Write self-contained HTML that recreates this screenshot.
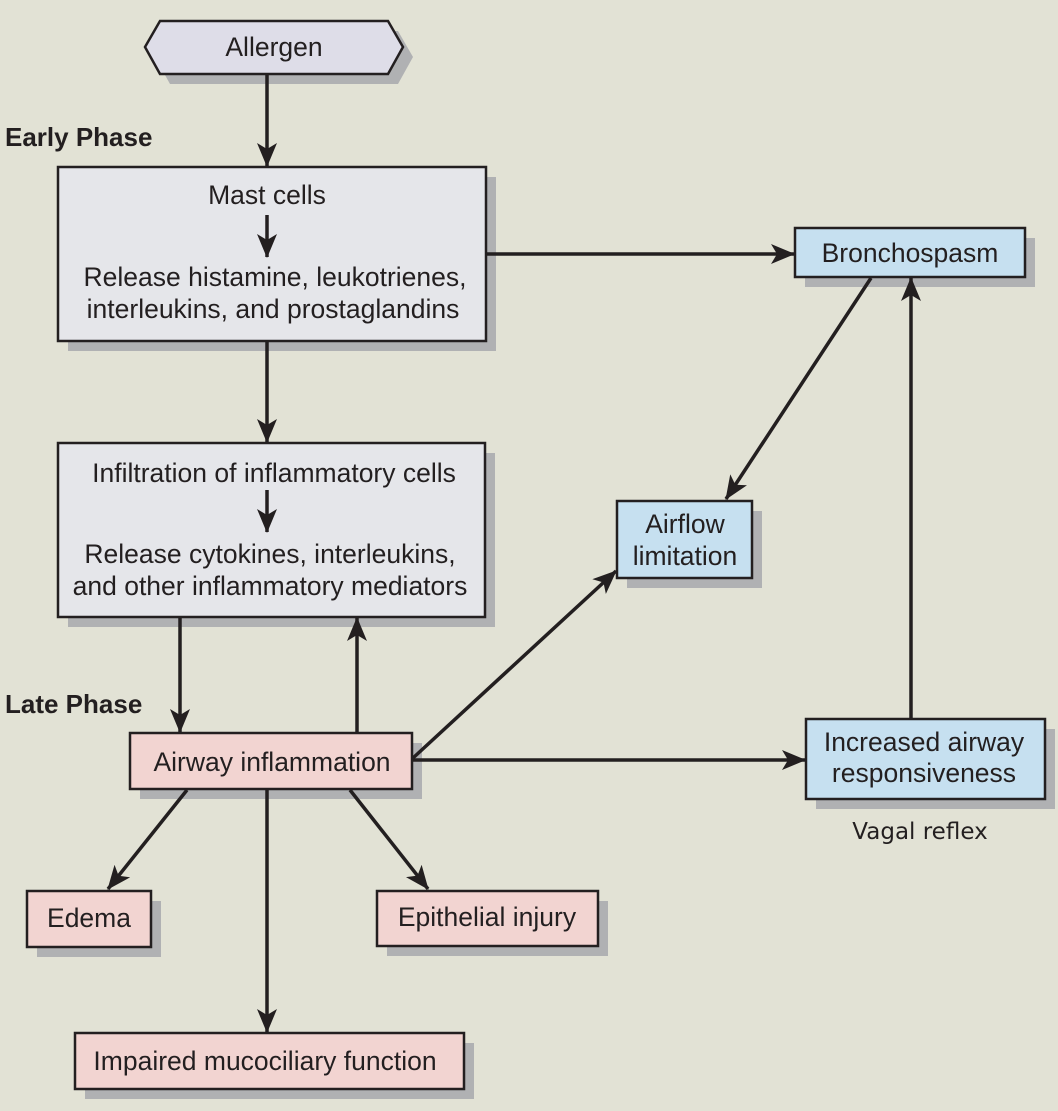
<!DOCTYPE html>
<html><head><style>
body{margin:0;background:#e2e2d5;}
svg text{font-family:"Liberation Sans",Arial,sans-serif;fill:#231f20;}
</style></head><body>
<svg width="1058" height="1106" viewBox="0 0 1058 1106" xmlns="http://www.w3.org/2000/svg">
<defs>
<marker id="a" viewBox="0 0 24 20" refX="23" refY="10" markerWidth="24" markerHeight="20" markerUnits="userSpaceOnUse" orient="auto">
<path d="M0,0 L24,10 L0,20 L6,10 Z" fill="#231f20"/></marker>
</defs>
<rect width="1058" height="1106" fill="#e2e2d5"/>
<g fill="#b0b1b3">
<polygon points="155,57 170,31 398,31 413,57 398,84 170,84"/>
<rect x="68" y="177" width="428" height="174"/>
<rect x="68" y="453" width="427" height="174"/>
<rect x="140" y="743" width="282" height="56"/>
<rect x="37" y="901" width="124" height="56"/>
<rect x="387" y="901" width="221" height="55"/>
<rect x="85" y="1043" width="389" height="56"/>
<rect x="805" y="238" width="230" height="49"/>
<rect x="627" y="511" width="135" height="77"/>
<rect x="816" y="729" width="239" height="80"/>
</g>
<g stroke="#231f20" stroke-width="2.5">
<polygon points="145,47 160,21 388,21 403,47 388,74 160,74" fill="#dedde8"/>
<rect x="58" y="167" width="428" height="174" fill="#e5e6ea"/>
<rect x="58" y="443" width="427" height="174" fill="#e5e6ea"/>
<rect x="130" y="733" width="282" height="56" fill="#f2d4d1"/>
<rect x="27" y="891" width="124" height="56" fill="#f2d4d1"/>
<rect x="377" y="891" width="221" height="55" fill="#f2d4d1"/>
<rect x="75" y="1033" width="389" height="56" fill="#f2d4d1"/>
<rect x="795" y="228" width="230" height="49" fill="#c6e0f0"/>
<rect x="617" y="501" width="135" height="77" fill="#c6e0f0"/>
<rect x="806" y="719" width="239" height="80" fill="#c6e0f0"/>
</g>
<g stroke="#231f20" stroke-width="3.5" fill="none" marker-end="url(#a)">
<line x1="267" y1="75" x2="267" y2="166"/>
<line x1="267" y1="215" x2="267" y2="257"/>
<line x1="267" y1="342" x2="267" y2="442"/>
<line x1="487" y1="254" x2="794" y2="254"/>
<line x1="267" y1="490" x2="267" y2="532"/>
<line x1="180" y1="618" x2="180" y2="732"/>
<line x1="357" y1="732" x2="357" y2="618"/>
<line x1="871" y1="278" x2="726" y2="499"/>
<line x1="413" y1="758" x2="616" y2="571"/>
<line x1="413" y1="760" x2="805" y2="760"/>
<line x1="911" y1="718" x2="911" y2="278"/>
<line x1="187" y1="790" x2="108" y2="889"/>
<line x1="267" y1="790" x2="267" y2="1032"/>
<line x1="350" y1="790" x2="428" y2="889"/>
</g>
<g font-size="26.5" text-anchor="middle">
<text x="274" y="56">Allergen</text>
<text x="267" y="204">Mast cells</text>
<text x="275" y="286">Release histamine, leukotrienes,</text>
<text x="273" y="318">interleukins, and prostaglandins</text>
<text x="274" y="482">Infiltration of inflammatory cells</text>
<text x="270" y="563">Release cytokines, interleukins,</text>
<text x="270" y="595">and other inflammatory mediators</text>
<text x="272" y="771">Airway inflammation</text>
<text x="89" y="927">Edema</text>
<text x="487" y="926">Epithelial injury</text>
<text x="265" y="1070">Impaired mucociliary function</text>
<text x="910" y="262">Bronchospasm</text>
<text x="685" y="533">Airflow</text>
<text x="685" y="565">limitation</text>
<text x="924" y="751">Increased airway</text>
<text x="924" y="782">responsiveness</text>
</g>
<g font-size="26" font-weight="bold">
<text x="5" y="146">Early Phase</text>
<text x="5" y="713">Late Phase</text>
</g>
<text x="920" y="839" text-anchor="middle" style="font-family:'DejaVu Sans','Liberation Sans',sans-serif" font-size="23">Vagal reflex</text>
</svg>
</body></html>
